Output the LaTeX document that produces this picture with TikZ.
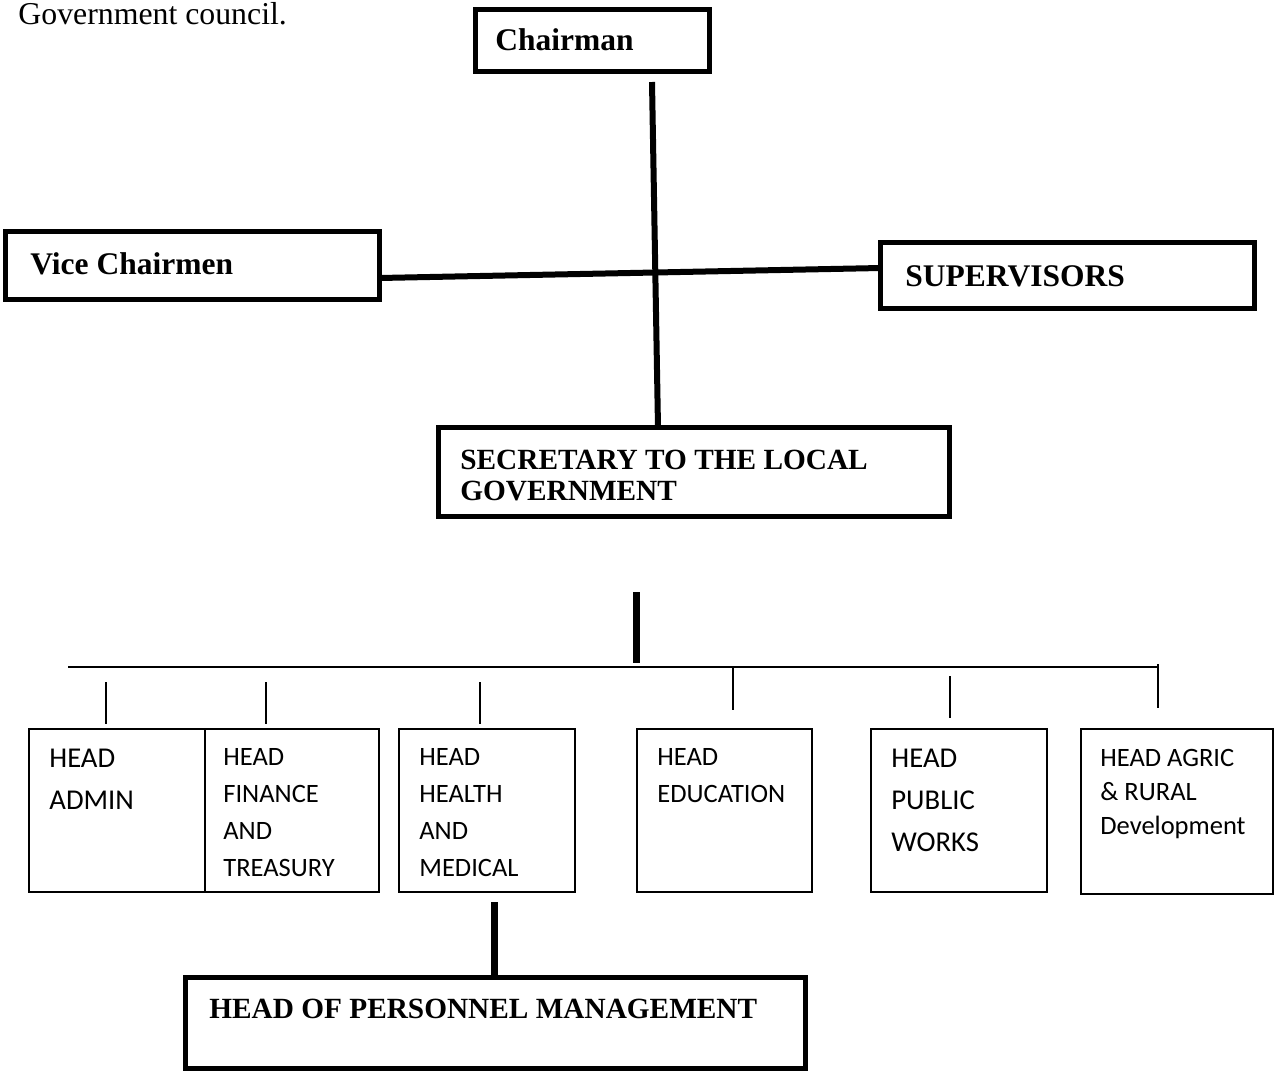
\documentclass[tikz,border=0pt]{standalone}
\usepackage{fontspec}
\setmainfont{Liberation Serif}
\newfontfamily\calibri{Carlito}
\usepackage{tikz}
\usetikzlibrary{calc}

\begin{document}
\begin{tikzpicture}[x=0.5pt,y=-0.5pt,
    hbox/.style n args={2}{draw,line width=2.5pt,minimum width=#1*0.5pt,minimum height=#2*0.5pt,inner sep=0pt,outer sep=0pt},
    dbox/.style n args={2}{draw,line width=1pt,minimum width=#1*0.5pt,minimum height=#2*0.5pt,inner sep=0pt,outer sep=0pt},
    btxt/.style={inner sep=0pt,align=left,font=\fontsize{15.75}{15.5}\selectfont\bfseries},
    ctxt/.style={inner sep=0pt,align=left,font=\fontsize{14.65}{15.5}\selectfont\bfseries},
    stxt/.style={anchor=north west,inner sep=0pt,align=left,font=\calibri\fontsize{13.25}{18.5}\selectfont},
    ltxt/.style={anchor=north west,inner sep=0pt,align=left,font=\calibri\fontsize{14.35}{21}\selectfont},
    tline/.style={line width=3pt},
    bline/.style={line width=1pt}]
    \useasboundingbox (0,0) rectangle (1275,1072);
    \node[anchor=base west,inner sep=0pt,font=\fontsize{15.9}{18}\selectfont](gov) at (18,24) {Government council.};
    \node[hbox={234}{62}](chair) at (592.5,40.5) {};
    \node[hbox={374}{68}](vice) at (192.5,265.5) {};
    \node[hbox={374}{66}](sup) at (1067.5,275.5) {};
    \node[hbox={511}{89}](secy) at (694,472) {};
    \node[hbox={620}{91}](pers) at (495.5,1023) {};
    \node[btxt,anchor=base west] at (495,50) {Chairman};
    \node[btxt,anchor=base west] at (30,274.5) {Vice Chairmen};
    \node[btxt,anchor=base west] at (905,286.5) {SUPERVISORS};
    \node[ctxt,anchor=north west] at (460,449.3) {SECRETARY TO THE LOCAL\\GOVERNMENT};
    \node[ctxt,anchor=base west] at (209,1018) {HEAD OF PERSONNEL MANAGEMENT};
    \node[dbox={176}{163}](adm) at (117,810.5) {};
    \node[dbox={174}{163}](fin) at (292,810.5) {};
    \node[dbox={176}{163}](hlth) at (487,810.5) {};
    \node[dbox={175}{163}](edu) at (724.5,810.5) {};
    \node[dbox={176}{163}](pwk) at (959,810.5) {};
    \node[dbox={192}{165}](agric) at (1177,811.5) {};
    \node[ltxt] at (49,749) {HEAD\\ADMIN};
    \node[stxt] at (223,748.5) {HEAD\\FINANCE\\AND\\TREASURY};
    \node[stxt] at (419,748.5) {HEAD\\HEALTH\\AND\\MEDICAL};
    \node[stxt] at (657,748.5) {HEAD\\EDUCATION};
    \node[ltxt] at (891,749) {HEAD\\PUBLIC\\WORKS};
    \node[stxt,font=\calibri\fontsize{13.25}{17}\selectfont] at (1100,748.5) {HEAD AGRIC\\\& RURAL\\Development};
    \draw[tline] ($(chair.south)+(59.5,10.5)$) -- ($(secy.north)+(-36,0)$);
    \draw[tline] ($(vice.east)+(0,12.5)$) -- ($(sup.west)+(0,-7.5)$);
    \coordinate (drop) at (636,592);
    \coordinate (dropend) at (636,663);
    \coordinate (busL) at (68,667);
    \coordinate (busR) at (1158,667);
    \draw[line width=3.5pt] (drop) -- (dropend);
    \draw[line width=1.25pt] (busL) -- (busR);
    \foreach \n/\dx/\a/\b in %
    {adm/-11/47/5,fin/-26/47/5,hlth/-7/47/5,edu/8.5/62/19,pwk/-9/53/11,agric/-19/65/21} {
       \draw[bline] ($(\n.north)+(\dx,-\a)$) -- ($(\n.north)+(\dx,-\b)$);
    }
    \draw[line width=3.5pt] ($(hlth.south)+(7,10)$) -- ($(pers.north)+(-1.5,0)$);
\end{tikzpicture}
\end{document}
